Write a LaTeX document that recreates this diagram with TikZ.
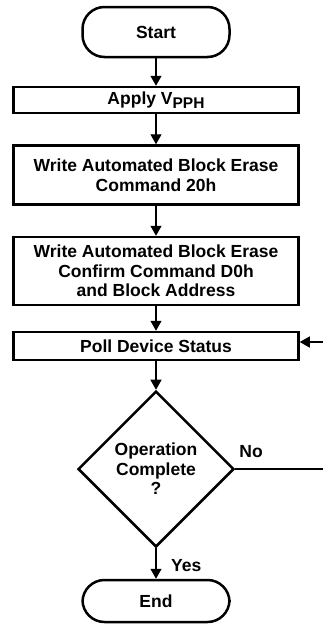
\documentclass[tikz,border=0pt]{standalone}
\usepackage{fontspec}
\setmainfont{Liberation Sans}
\usetikzlibrary{arrows.meta}
\usetikzlibrary{shapes.geometric, math}

\tikzset{
  box/.style={draw, line width=2.5pt, inner sep=0pt, align=center,
    font=\fontsize{17.5}{19.5}\selectfont\bfseries},
  term/.style={box, rounded corners=22pt, minimum width=147pt},
  test/.style={box, diamond, minimum size=156pt},
  flow/.style={line width=1.3pt, -{Triangle[length=10pt,width=11pt]}},
  tag/.style={inner sep=0pt, font=\fontsize{17.5}{19.5}\selectfont\bfseries}
}

\begin{document}
\begin{tikzpicture}[x=1pt, y=-1pt]
\tikzmath{
\W=285;
\X=156;
}
\useasboundingbox (0,0) rectangle (323,624);
\clip (0,0) rectangle (323,624);

\node[term, minimum height=50pt] (start) at (\X,32) {Start};
\node[box, minimum width=\W*1pt, minimum height=26pt] (apply) at (\X,100)
  {Apply V\raisebox{-4pt}{\fontsize{15.5}{15.5}\selectfont PPH}};
\node[box, minimum width=\W*1pt, minimum height=59pt] (write1) at (\X,175)
  {Write Automated Block Erase\\Command 20h};
\node[box, minimum width=\W*1pt, minimum height=68pt] (write2) at (\X,271)
  {Write Automated Block Erase\\Confirm Command D0h\\and Block Address};
\node[box, minimum width=\W*1pt, minimum height=28pt] (poll) at (\X,346)
  {Poll Device Status};
\node[test] (check) at (\X,469) {Operation\\Complete\\?};
\node[term, minimum height=42pt] (end) at (\X,601) {End};

\draw[flow] (start) -- (apply);
\draw[flow] (apply) -- (write1);
\draw[flow] (write1) -- (write2);
\draw[flow] (write2) -- (poll);
\draw[flow] (poll) -- (check);
\draw[flow] (check) -- (end);

% loop back when not done
\coordinate (back) at (340,469);
\draw[flow] (check.east) -- (back) |- ([yshift=4pt]poll.east);

\node[tag, anchor=base west] (no) at ([xshift=4pt,yshift=12pt]check.east) {No};
\node[tag, anchor=base west] (yes) at (171,571) {Yes};

\end{tikzpicture}
\end{document}
